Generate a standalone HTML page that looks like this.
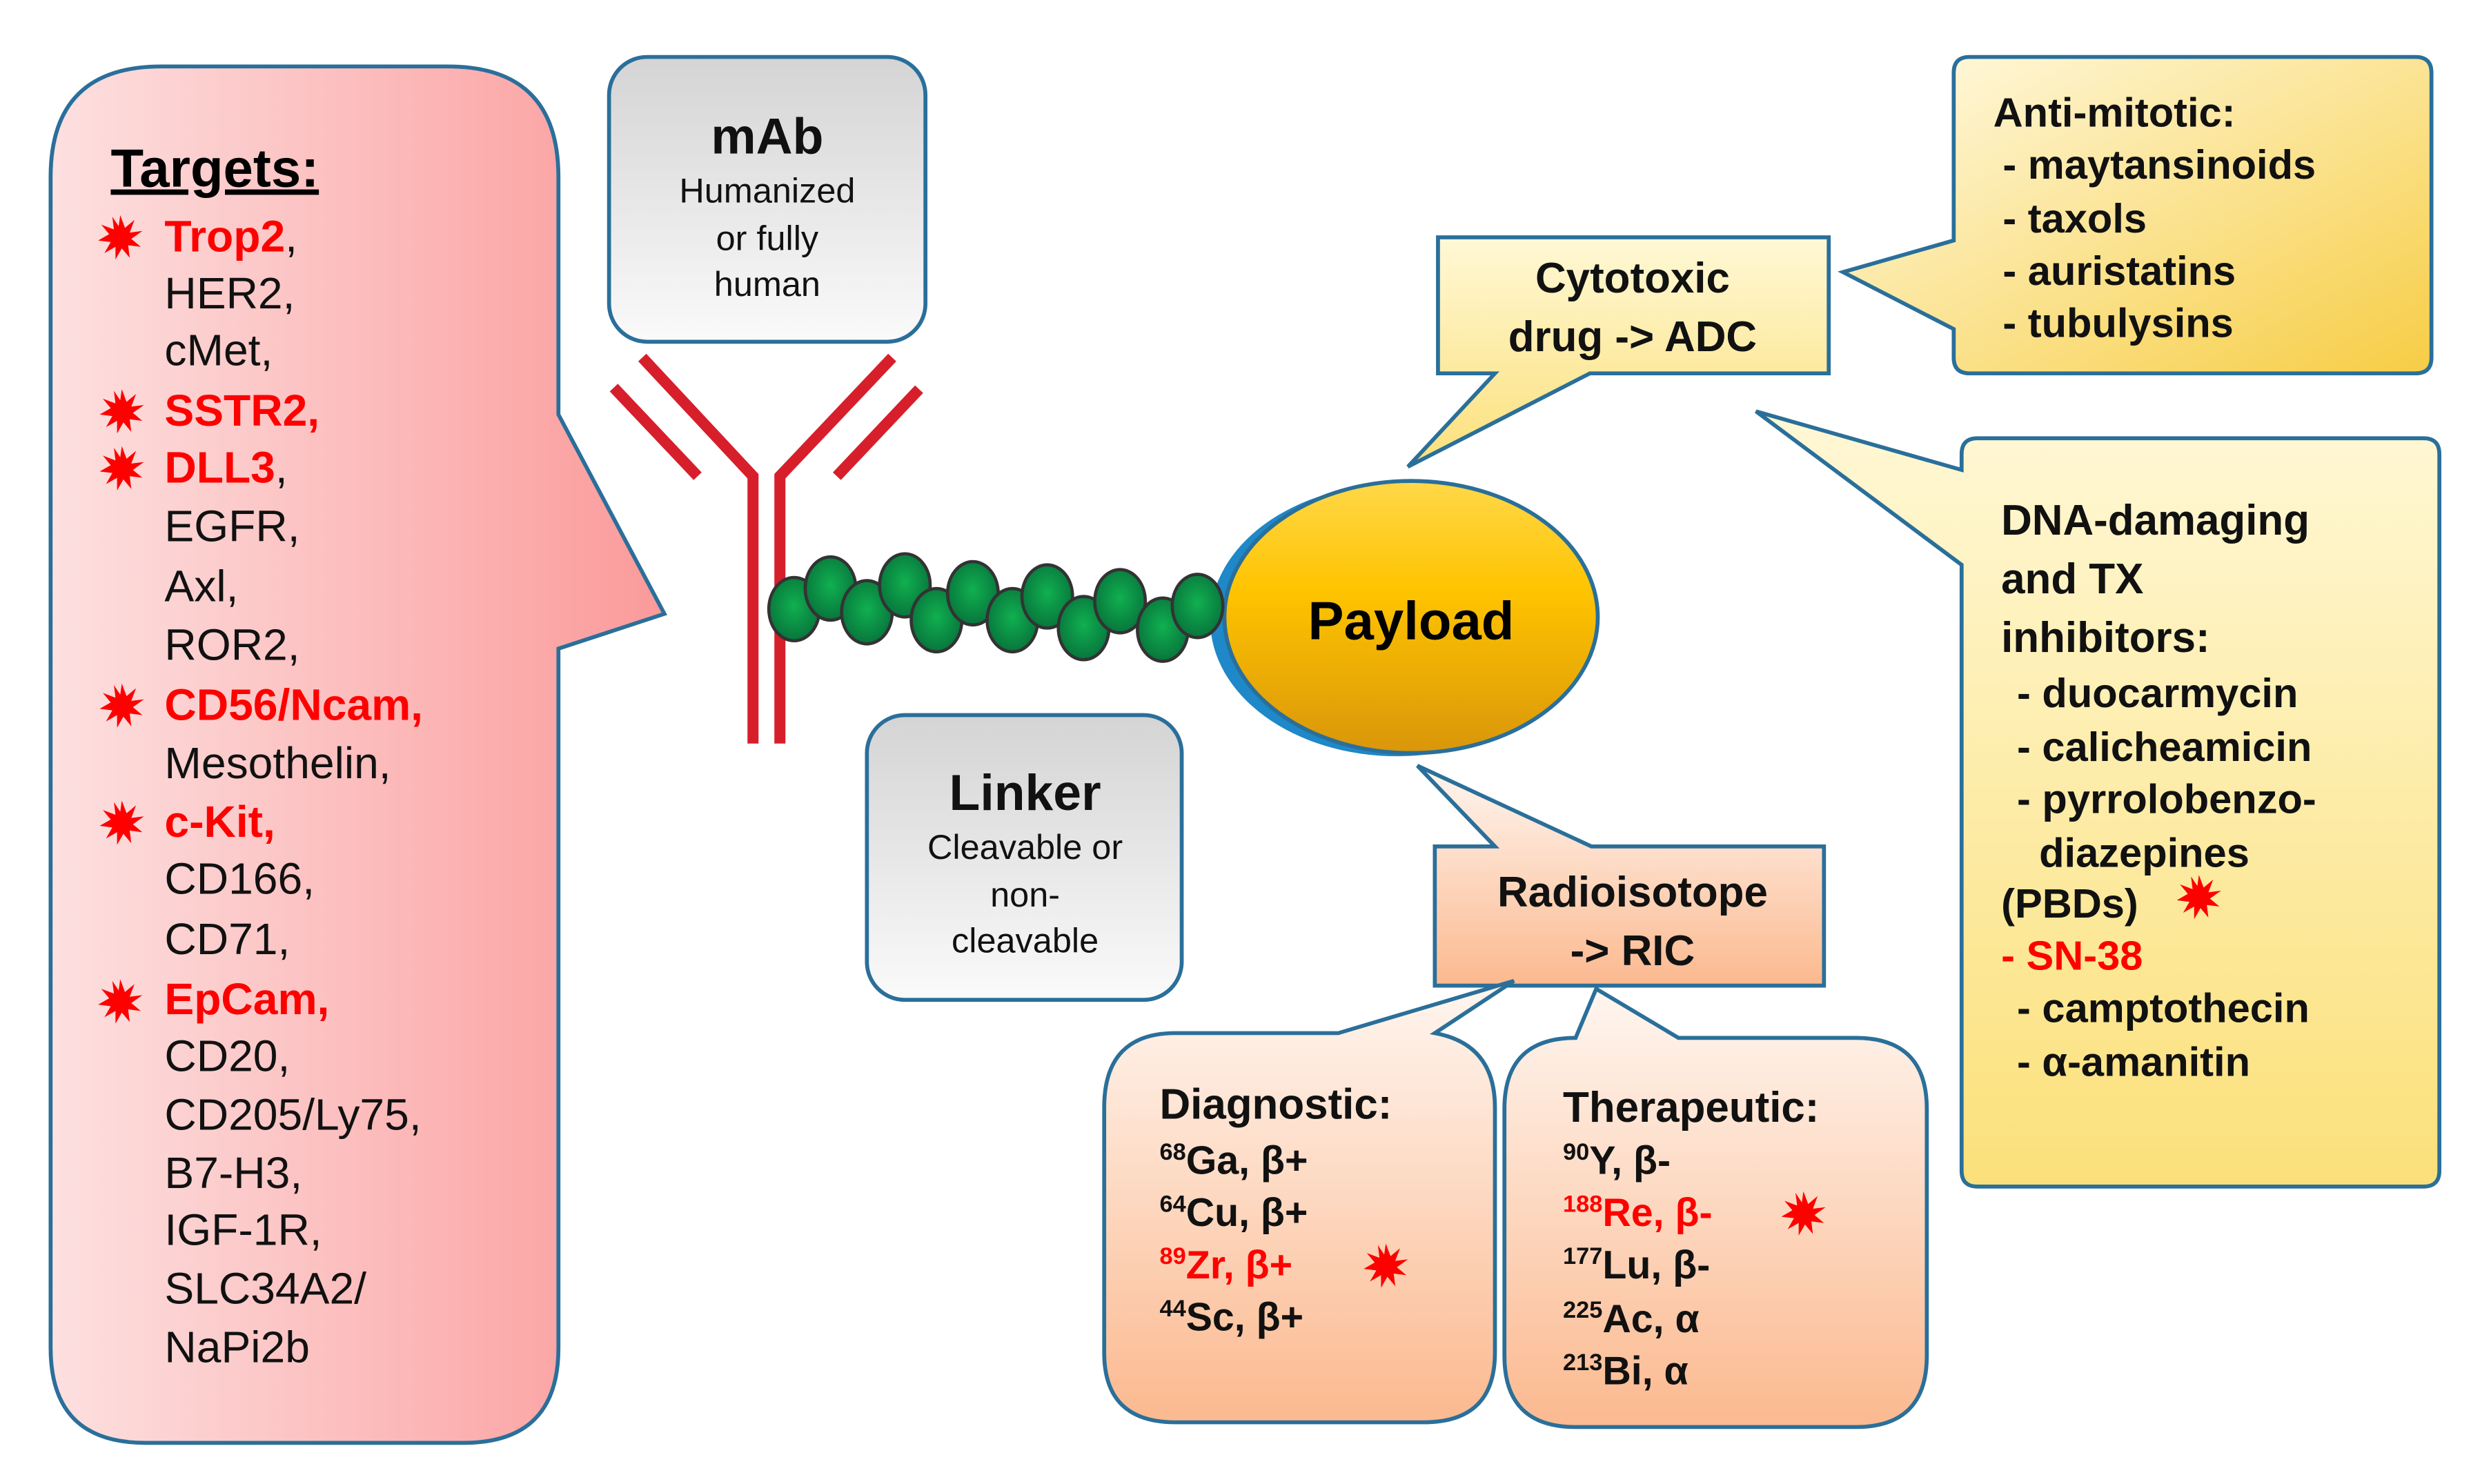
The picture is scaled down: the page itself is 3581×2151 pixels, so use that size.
<!DOCTYPE html>
<html><head><meta charset="utf-8"><style>html,body{margin:0;padding:0;background:#fff}svg{display:block}text{font-family:"Liberation Sans",Arial,sans-serif}</style></head>
<body>
<svg width="3581" height="2151" viewBox="0 0 1562 938" preserveAspectRatio="none" xmlns="http://www.w3.org/2000/svg">
<defs>
<linearGradient id="pink" x1="0" y1="0" x2="1" y2="0"><stop offset="0" stop-color="#fde0e0"/><stop offset="1" stop-color="#fb9a9a"/></linearGradient>
<linearGradient id="gray" x1="0" y1="0" x2="0" y2="1"><stop offset="0" stop-color="#d4d4d4"/><stop offset="1" stop-color="#fafafa"/></linearGradient>
<linearGradient id="gold" x1="0" y1="0" x2="0" y2="1"><stop offset="0" stop-color="#ffd84a"/><stop offset="0.4" stop-color="#ffc400"/><stop offset="1" stop-color="#d9960a"/></linearGradient>
<linearGradient id="yel" x1="0" y1="0" x2="1" y2="1"><stop offset="0" stop-color="#fffbe6"/><stop offset="1" stop-color="#f7cd45"/></linearGradient>
<linearGradient id="yel2" x1="0" y1="0" x2="0" y2="1"><stop offset="0" stop-color="#fff8d6"/><stop offset="1" stop-color="#fbe07a"/></linearGradient>
<linearGradient id="peach" x1="0" y1="0" x2="0" y2="1"><stop offset="0" stop-color="#fff6f0"/><stop offset="1" stop-color="#fbb98f"/></linearGradient>
<radialGradient id="bead" cx="0.5" cy="0.45" r="0.6"><stop offset="0" stop-color="#10b050"/><stop offset="1" stop-color="#07703a"/></radialGradient>
<polygon id="star" fill="#f00" points="0,-14 3,-6 9,-11 6,-3 14,-4 7,1 13,6 5,5 6,13 1,7 -3,14 -3,6 -10,10 -6,3 -14,2 -7,-2 -12,-8 -4,-5 -5,-13 -1,-7"/>
</defs>
<g stroke="#2a6f9a" stroke-width="2.5">
<path d="M102,42 H283 Q353,42 353,112 V262 L420,388 L353,410 V852 Q353,912 293,912 H92 Q32,912 32,852 V112 Q32,42 102,42 Z" fill="url(#pink)"/>
<rect x="385" y="36" width="200" height="180" rx="24" fill="url(#gray)"/>
<rect x="548" y="452" width="199" height="180" rx="24" fill="url(#gray)"/>
<path d="M909,150 H1156 V236 H1005 L890,295 L945,236 H909 Z" fill="url(#yel2)"/>
<path d="M1245,36 H1527 Q1537,36 1537,46 V226 Q1537,236 1527,236 H1245 Q1235,236 1235,226 V208 L1165,172 L1235,152 V46 Q1235,36 1245,36 Z" fill="url(#yel)"/>
<path d="M1250,277 H1532 Q1542,277 1542,287 V740 Q1542,750 1532,750 H1250 Q1240,750 1240,740 V357 L1110,260 L1240,297 V287 Q1240,277 1250,277 Z" fill="url(#yel2)"/>
<path d="M907,535 H945 L896,484 L1006,535 H1153 V623 H907 Z" fill="url(#peach)"/>
<path d="M743,653 H846 L957,620 L907,653 Q945,660 945,700 V855 Q945,899 900,899 H743 Q698,899 698,855 V700 Q698,653 743,653 Z" fill="url(#peach)"/>
<path d="M996,656 L1009,625 L1061,656 H1173 Q1218,656 1218,701 V857 Q1218,902 1173,902 H996 Q951,902 951,857 V701 Q951,656 996,656 Z" fill="url(#peach)"/>
</g>
<g stroke="#d71f2b" stroke-width="7" fill="none">
<polyline points="406,226 476,301 476,470"/>
<polyline points="564,226 493,301 493,470"/>
<line x1="388" y1="245" x2="441" y2="301"/>
<line x1="581" y1="246" x2="529" y2="301"/>
</g>
<ellipse cx="883" cy="392" rx="118" ry="86" fill="#1e88c8"/>
<ellipse cx="892" cy="390" rx="118" ry="86" fill="url(#gold)" stroke="#2a6f9a" stroke-width="2.5"/>
<g fill="url(#bead)" stroke="#333" stroke-width="2">
<ellipse cx="502" cy="385" rx="16" ry="20"/><ellipse cx="525" cy="372" rx="16" ry="20"/>
<ellipse cx="548" cy="387" rx="16" ry="20"/><ellipse cx="572" cy="370" rx="16" ry="20"/>
<ellipse cx="592" cy="392" rx="16" ry="20"/><ellipse cx="615" cy="375" rx="16" ry="20"/>
<ellipse cx="640" cy="392" rx="16" ry="20"/><ellipse cx="662" cy="377" rx="16" ry="20"/>
<ellipse cx="685" cy="397" rx="16" ry="20"/><ellipse cx="708" cy="380" rx="16" ry="20"/>
<ellipse cx="735" cy="398" rx="16" ry="20"/><ellipse cx="757" cy="383" rx="16" ry="20"/>
</g>
<text x="892" y="404" font-size="34" font-weight="bold" text-anchor="middle">Payload</text>
<g text-anchor="middle" fill="#111">
<text x="485" y="97" font-size="32" font-weight="bold">mAb</text>
<text x="485" y="128" font-size="22">Humanized</text>
<text x="485" y="158" font-size="22">or fully</text>
<text x="485" y="187" font-size="22">human</text>
<text x="648" y="512" font-size="32" font-weight="bold">Linker</text>
<text x="648" y="543" font-size="22">Cleavable or</text>
<text x="648" y="573" font-size="22">non-</text>
<text x="648" y="602" font-size="22">cleavable</text>
<text x="1032" y="185" font-size="27" font-weight="bold">Cytotoxic</text>
<text x="1032" y="222" font-size="27" font-weight="bold">drug -&gt; ADC</text>
<text x="1032" y="573" font-size="27" font-weight="bold">Radioisotope</text>
<text x="1032" y="610" font-size="27" font-weight="bold">-&gt; RIC</text>
</g>
<text x="70" y="118" font-size="34" font-weight="bold" text-decoration="underline">Targets:</text>
<g font-size="28" fill="#111">
<text x="104" y="159"><tspan fill="#f00" font-weight="bold">Trop2</tspan>,</text>
<text x="104" y="195">HER2,</text>
<text x="104" y="231">cMet,</text>
<text x="104" y="269" fill="#f00" font-weight="bold">SSTR2,</text>
<text x="104" y="305"><tspan fill="#f00" font-weight="bold">DLL3</tspan>,</text>
<text x="104" y="342">EGFR,</text>
<text x="104" y="380">Axl,</text>
<text x="104" y="417">ROR2,</text>
<text x="104" y="455" fill="#f00" font-weight="bold">CD56/Ncam,</text>
<text x="104" y="492">Mesothelin,</text>
<text x="104" y="529" fill="#f00" font-weight="bold">c-Kit,</text>
<text x="104" y="565">CD166,</text>
<text x="104" y="603">CD71,</text>
<text x="104" y="641" fill="#f00" font-weight="bold">EpCam,</text>
<text x="104" y="677">CD20,</text>
<text x="104" y="714">CD205/Ly75,</text>
<text x="104" y="751">B7-H3,</text>
<text x="104" y="787">IGF-1R,</text>
<text x="104" y="824">SLC34A2/</text>
<text x="104" y="861">NaPi2b</text>
</g>
<use href="#star" x="76" y="150"/><use href="#star" x="77" y="260"/><use href="#star" x="77" y="296"/>
<use href="#star" x="77" y="446"/><use href="#star" x="77" y="520"/><use href="#star" x="76" y="633"/>
<g font-size="26" font-weight="bold" fill="#111">
<text x="1260" y="80">Anti-mitotic:</text>
<text x="1266" y="113">- maytansinoids</text>
<text x="1266" y="147">- taxols</text>
<text x="1266" y="180">- auristatins</text>
<text x="1266" y="213">- tubulysins</text>
<text x="1265" y="338" font-size="27">DNA-damaging</text>
<text x="1265" y="375" font-size="27">and TX</text>
<text x="1265" y="412" font-size="27">inhibitors:</text>
<text x="1275" y="447">- duocarmycin</text>
<text x="1275" y="481">- calicheamicin</text>
<text x="1275" y="514">- pyrrolobenzo-</text>
<text x="1289" y="548">diazepines</text>
<text x="1265" y="580">(PBDs)</text>
<text x="1265" y="613" fill="#f00">- SN-38</text>
<text x="1275" y="646">- camptothecin</text>
<text x="1275" y="680">- α-amanitin</text>
<text x="733" y="707" font-size="27">Diagnostic:</text>
<text x="988" y="709" font-size="27">Therapeutic:</text>
</g>
<use href="#star" x="1390" y="567"/>
<g font-size="25" font-weight="bold" fill="#111" xml:space="preserve">
<text x="733" y="742"><tspan font-size="15" dy="-9">68</tspan><tspan dy="9">Ga, β+</tspan></text>
<text x="733" y="775"><tspan font-size="15" dy="-9">64</tspan><tspan dy="9">Cu, β+</tspan></text>
<text x="733" y="808" fill="#f00"><tspan font-size="15" dy="-9">89</tspan><tspan dy="9">Zr,  β+</tspan></text>
<text x="733" y="841"><tspan font-size="15" dy="-9">44</tspan><tspan dy="9">Sc, β+</tspan></text>
<text x="988" y="742"><tspan font-size="15" dy="-9">90</tspan><tspan dy="9">Y,    β-</tspan></text>
<text x="988" y="775" fill="#f00"><tspan font-size="15" dy="-9">188</tspan><tspan dy="9">Re, β-</tspan></text>
<text x="988" y="808"><tspan font-size="15" dy="-9">177</tspan><tspan dy="9">Lu, β-</tspan></text>
<text x="988" y="842"><tspan font-size="15" dy="-9">225</tspan><tspan dy="9">Ac, α</tspan></text>
<text x="988" y="875"><tspan font-size="15" dy="-9">213</tspan><tspan dy="9">Bi,  α</tspan></text>
</g>
<use href="#star" x="876" y="800"/><use href="#star" x="1140" y="767"/>
</svg>
</body></html>
